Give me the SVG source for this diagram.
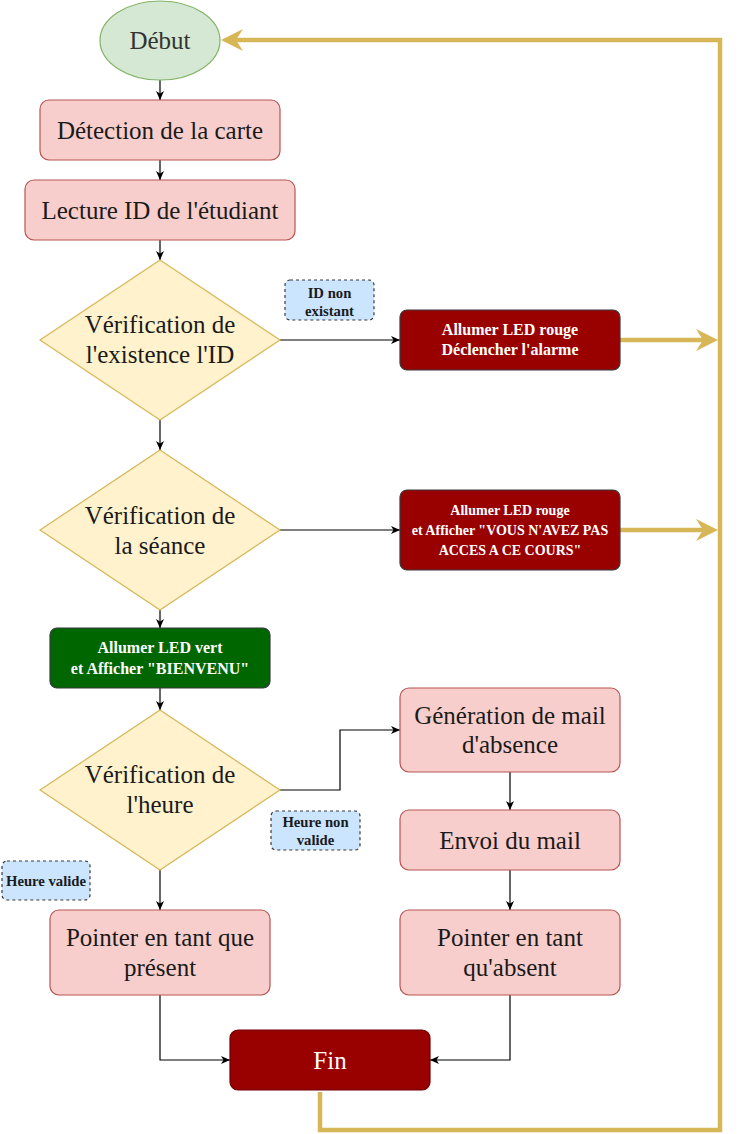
<svg xmlns="http://www.w3.org/2000/svg" width="741" height="1134" viewBox="0 0 741 1134">
<style>
text{font-family:"Liberation Serif","Times New Roman",serif;text-anchor:middle}
.big{font-size:25px;fill:#1a1a1a}
.wb{font-size:16px;font-weight:bold;fill:#ffffff}
.wb14{font-size:14px;font-weight:bold;fill:#ffffff}
.lb{font-size:14.7px;font-weight:bold;fill:#1a1a1a}
.pink{fill:#f8cecc;stroke:#b85450;stroke-width:1.2}
.dia{fill:#fff2cc;stroke:#d6b656;stroke-width:1.2}
.red{fill:#990000;stroke:#36393d;stroke-width:1.2}
.lbl{fill:#cce5ff;stroke:#36393d;stroke-width:1.2;stroke-dasharray:3 3}
.c{fill:none;stroke:#000;stroke-width:1.2;marker-end:url(#arr)}
.y{fill:none;stroke:#d6b656;stroke-width:4.5;stroke-linejoin:miter}
.yh{fill:#d6b656}
</style>
<defs>
<marker id="arr" markerUnits="userSpaceOnUse" markerWidth="10" markerHeight="8" refX="9" refY="4" orient="auto"><path d="M0,0 L9,4 L0,8 L2.5,4 z" fill="#000"/></marker>
</defs>
<rect width="741" height="1134" fill="#ffffff"/>

<g id="connectors">
<path class="c" d="M160,80 L160,100"/>
<path class="c" d="M160,160 L160,180"/>
<path class="c" d="M160,240 L160,260"/>
<path class="c" d="M280,340 L400,340"/>
<path class="c" d="M160,420 L160,450"/>
<path class="c" d="M280,530 L400,530"/>
<path class="c" d="M160,610 L160,628"/>
<path class="c" d="M160,688 L160,710"/>
<path class="c" d="M280,790 L340,790 L340,730 L400,730"/>
<path class="c" d="M160,870 L160,910"/>
<path class="c" d="M510,772 L510,810"/>
<path class="c" d="M510,870 L510,910"/>
<path class="c" d="M160,995 L160,1060 L230,1060"/>
<path class="c" d="M510,995 L510,1060 L430,1060"/>
<path class="y" d="M320,1092 L320,1130 L720,1130 L720,40 L236,40"/>
<polygon class="yh" points="221,40 243,29 236,40 243,51"/>
<path class="y" d="M620,340 L704,340"/>
<polygon class="yh" points="718,340 696,329 703,340 696,351"/>
<path class="y" d="M620,530 L704,530"/>
<polygon class="yh" points="718,530 696,519 703,530 696,541"/>
</g>

<g id="debut">
<ellipse cx="160" cy="40.5" rx="60" ry="39.5" fill="#d5e8d4" stroke="#82b366" stroke-width="1.2"/>
<text class="big" x="160" y="49" style="fill:#333333">Début</text>
</g>
<g id="detection">
<rect class="pink" x="40" y="100" width="240" height="60" rx="9"/>
<text class="big" x="160" y="139">Détection de la carte</text>
</g>
<g id="lecture">
<rect class="pink" x="25" y="180" width="270" height="60" rx="9"/>
<text class="big" x="160" y="218.5">Lecture ID de l'étudiant</text>
</g>
<g id="verif-id">
<polygon class="dia" points="160,260 280,340 160,420 40,340"/>
<text class="big" x="160" y="333">Vérification de</text>
<text class="big" x="160" y="363">l'existence l'ID</text>
</g>
<g id="label-id">
<rect class="lbl" x="285" y="280" width="89" height="40" rx="5"/>
<text class="lb" x="329.5" y="297.5">ID non</text>
<text class="lb" x="329.5" y="315.5">existant</text>
</g>
<g id="alarme">
<rect class="red" x="400" y="310" width="220" height="60" rx="7"/>
<text class="wb" x="510" y="335">Allumer LED rouge</text>
<text class="wb" x="510" y="355">Déclencher l'alarme</text>
</g>
<g id="verif-seance">
<polygon class="dia" points="160,450 280,530 160,610 40,530"/>
<text class="big" x="160" y="524">Vérification de</text>
<text class="big" x="160" y="554">la séance</text>
</g>
<g id="acces">
<rect class="red" x="400" y="490" width="220" height="80" rx="7"/>
<text class="wb14" x="510" y="515">Allumer LED rouge</text>
<text class="wb14" x="510" y="535">et Afficher "VOUS N'AVEZ PAS</text>
<text class="wb14" x="510" y="555">ACCES A CE COURS"</text>
</g>
<g id="bienvenu">
<rect x="50" y="628" width="220" height="60" rx="7" fill="#006600" stroke="#36393d" stroke-width="1.2"/>
<text class="wb" x="160" y="652.5">Allumer LED vert</text>
<text class="wb" x="160" y="673.5">et Afficher "BIENVENU"</text>
</g>
<g id="verif-heure">
<polygon class="dia" points="160,710 280,790 160,870 40,790"/>
<text class="big" x="160" y="783">Vérification de</text>
<text class="big" x="160" y="813">l'heure</text>
</g>
<g id="label-non-valide">
<rect class="lbl" x="271" y="811" width="89" height="39" rx="5"/>
<text class="lb" x="315.5" y="827">Heure non</text>
<text class="lb" x="315.5" y="845">valide</text>
</g>
<g id="label-valide">
<rect class="lbl" x="2" y="861" width="88" height="39" rx="5"/>
<text class="lb" x="46" y="886">Heure valide</text>
</g>
<g id="generation">
<rect class="pink" x="400" y="688" width="220" height="84" rx="9"/>
<text class="big" x="510" y="723.5">Génération de mail</text>
<text class="big" x="510" y="753">d'absence</text>
</g>
<g id="envoi">
<rect class="pink" x="400" y="810" width="220" height="60" rx="9"/>
<text class="big" x="510" y="848.5">Envoi du mail</text>
</g>
<g id="present">
<rect class="pink" x="50" y="910" width="220" height="85" rx="9"/>
<text class="big" x="160" y="946">Pointer en tant que</text>
<text class="big" x="160" y="976">présent</text>
</g>
<g id="absent">
<rect class="pink" x="400" y="910" width="220" height="85" rx="9"/>
<text class="big" x="510" y="946">Pointer en tant</text>
<text class="big" x="510" y="976">qu'absent</text>
</g>
<g id="fin">
<rect x="230" y="1030" width="200" height="60" rx="8" fill="#990000" stroke="#6f0000" stroke-width="1.2"/>
<text x="330" y="1069" style="font-size:25px;fill:#ffffff">Fin</text>
</g>
</svg>
